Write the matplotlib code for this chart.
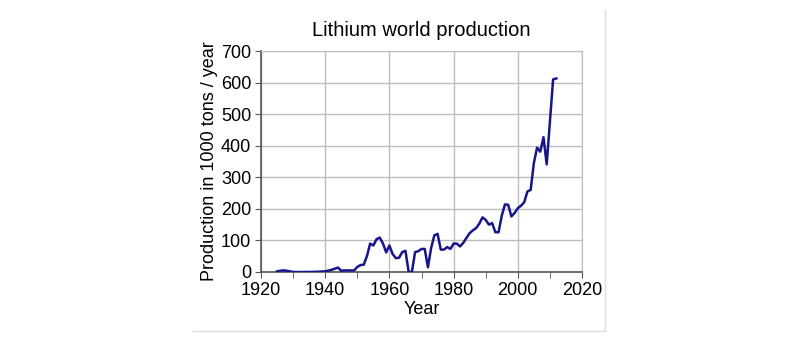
import matplotlib.pyplot as plt
from matplotlib.lines import Line2D

plt.rcParams['font.family'] = ['Liberation Sans', 'DejaVu Sans']

# Lithium production (1000 tons / year)
years = [1925, 1926, 1927, 1928, 1930, 1932, 1935, 1938, 1940, 1942, 1944,
         1945, 1946, 1948, 1949, 1950, 1951, 1952, 1953, 1954, 1955, 1956,
         1957, 1958, 1959, 1960, 1961, 1962, 1963, 1964, 1965, 1966, 1967,
         1968, 1969, 1970, 1971, 1972, 1973, 1974, 1975, 1976, 1977, 1978,
         1979, 1980, 1981, 1982, 1983, 1984, 1985, 1986, 1987, 1988, 1989,
         1990, 1991, 1992, 1993, 1994, 1995, 1996, 1997, 1998, 1999, 2000,
         2001, 2002, 2003, 2004, 2005, 2006, 2007, 2008, 2009, 2011, 2012]
production = [2, 4, 5, 4, 0, 0, 0, 1, 2, 7, 14,
              4, 5, 5, 5, 16, 22, 23, 50, 90, 84, 104,
              109, 90, 62, 84, 57, 44, 45, 63, 67, 0, 0,
              63, 66, 73, 73, 15, 76, 116, 121, 71, 71, 79,
              73, 90, 90, 81, 92, 108, 123, 132, 139, 153, 173,
              165, 150, 155, 126, 126, 178, 214, 213, 176, 187, 202,
              210, 221, 255, 260, 345, 394, 381, 427, 341, 610, 613]

x_ticks = [1920, 1940, 1960, 1980, 2000, 2020]
y_ticks = [0, 100, 200, 300, 400, 500, 600, 700]

fig = plt.figure(figsize=(8, 3.5), dpi=100)
ax = fig.add_axes([261 / 800, 1 - 272 / 350, 321 / 800, 221 / 350])

# faint shadow edge on the right and bottom of the chart area
shadow = dict(transform=fig.transFigure, color='#dcdcdc', linewidth=1)
fig.lines.append(Line2D([193 / 800, 605 / 800], [1 - 331 / 350] * 2, **shadow))
fig.lines.append(Line2D([605 / 800] * 2, [1 - 331 / 350, 1 - 10 / 350], **shadow))

ax.plot(years, production, color='#16168a', linewidth=1.8, zorder=3)

ax.set_xlim(1920, 2020)
ax.set_ylim(0, 700)
ax.set_xticks(x_ticks)
ax.set_xticks(range(1920, 2021, 10), minor=True)
ax.set_yticks(y_ticks)
ax.grid(True, color='#bdbdbd', linewidth=1)
ax.set_axisbelow(True)

for side in ['top', 'right']:
    ax.spines[side].set_color('#bdbdbd')
for side in ['left', 'bottom']:
    ax.spines[side].set_color('#555555')
    ax.spines[side].set_linewidth(1.2)

ax.tick_params(axis='both', labelsize=13, length=4, color='#555555', pad=3)
ax.tick_params(axis='x', which='minor', length=4, color='#555555')

ax.set_title('Lithium world production', fontsize=14.5, pad=11)
ax.set_xlabel('Year', fontsize=13, labelpad=2)
ax.set_ylabel('Production in 1000 tons / year', fontsize=13, labelpad=2)

fig.savefig('out.png', dpi=100)
